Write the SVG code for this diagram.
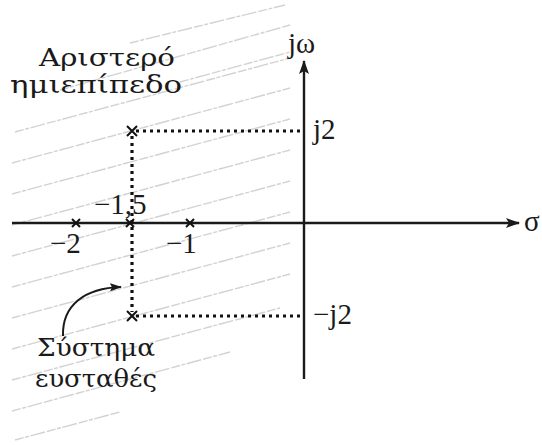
<svg xmlns="http://www.w3.org/2000/svg" width="542" height="445" viewBox="0 0 542 445">
<defs>
<style>
.hatch{stroke:#d2d2d2;stroke-width:1.4;stroke-dasharray:9 1.5 4 1.5 15 2;fill:none}
.axis{stroke:#1a1a1a;stroke-width:2.4;fill:none}
.dot{stroke:#111;stroke-width:3.2;stroke-dasharray:3 4;fill:none}
.x{stroke:#111;stroke-width:2;fill:none}
.lbl{font-family:"DejaVu Serif","Liberation Serif",serif;font-size:24px;fill:#1a1a1a}
.num{font-family:"Liberation Serif",serif;font-size:29px;fill:#1a1a1a}
</style>
<marker id="ah" viewBox="0 0 14 10" refX="13" refY="5" markerWidth="14" markerHeight="10" markerUnits="userSpaceOnUse" orient="auto">
<path d="M0,0 L14,5 L0,10 L3,5 Z" fill="#1a1a1a"/>
</marker>
<marker id="ah2" viewBox="0 0 12 8" refX="11" refY="4" markerWidth="12" markerHeight="8" markerUnits="userSpaceOnUse" orient="auto">
<path d="M0,0 L12,4 L0,8 L2,4 Z" fill="#1a1a1a"/>
</marker>
</defs>
<rect width="542" height="445" fill="#fff"/>
<g id="hatching">
<line class="hatch" x1="130" y1="43" x2="285" y2="5"/>
<line class="hatch" x1="60" y1="90" x2="290" y2="25"/>
<line class="hatch" x1="180" y1="82" x2="290" y2="52"/>
<line class="hatch" x1="15" y1="132" x2="290" y2="58"/>
<line class="hatch" x1="12" y1="163" x2="290" y2="88"/>
<line class="hatch" x1="12" y1="194" x2="290" y2="119"/>
<line class="hatch" x1="12" y1="225" x2="290" y2="150"/>
<line class="hatch" x1="12" y1="256" x2="290" y2="181"/>
<line class="hatch" x1="12" y1="287" x2="290" y2="212"/>
<line class="hatch" x1="12" y1="318" x2="290" y2="243"/>
<line class="hatch" x1="12" y1="349" x2="290" y2="274"/>
<line class="hatch" x1="12" y1="380" x2="280" y2="308"/>
<line class="hatch" x1="12" y1="411" x2="230" y2="352"/>
<line class="hatch" x1="15" y1="440" x2="120" y2="412"/>
</g>
<g id="connectors">
<line id="sigma-axis" class="axis" x1="12" y1="223" x2="519" y2="223" marker-end="url(#ah)"/>
<line id="jw-axis" class="axis" x1="304" y1="379" x2="304" y2="61" marker-end="url(#ah)"/>
<path id="dot-upper" class="dot" d="M136,131 H302"/>
<path id="dot-lower" class="dot" d="M136,316 H302"/>
<path id="dot-vert" class="dot" d="M132,136 V312"/>
<path id="curve-arrow" d="M63,336 C62,305 85,288 121,287" stroke="#1a1a1a" stroke-width="2" fill="none" marker-end="url(#ah2)"/>
</g>
<g id="pole-upper"><path class="x" d="M127,126 L137,136 M137,126 L127,136"/></g>
<g id="pole-lower"><path class="x" d="M127,311 L137,321 M137,311 L127,321"/></g>
<g id="mark-m2"><path class="x" d="M72,219 L80,227 M80,219 L72,227"/></g>
<g id="mark-m15"><path class="x" d="M126,219 L134,227 M134,219 L126,227"/></g>
<g id="mark-m1"><path class="x" d="M186,219 L194,227 M194,219 L186,227"/></g>
<g id="label-left-half">
<text class="lbl" x="39" y="66" textLength="136" lengthAdjust="spacingAndGlyphs">Αριστερό</text>
<text class="lbl" x="10" y="93" textLength="172" lengthAdjust="spacingAndGlyphs">ημιεπίπεδο</text>
</g>
<g id="label-stable">
<text class="lbl" x="37" y="356" textLength="118" lengthAdjust="spacingAndGlyphs">Σύστημα</text>
<text class="lbl" x="35" y="387" textLength="122" lengthAdjust="spacingAndGlyphs">ευσταθές</text>
</g>
<g id="ticks">
<text class="num" x="50" y="253">−2</text>
<text class="num" x="166" y="253">−1</text>
<text class="num" x="94" y="214">−1,5</text>
</g>
<g id="axis-labels">
<text class="num" x="288" y="53">jω</text>
<text class="num" x="313" y="139">j2</text>
<text class="num" x="313" y="324">−j2</text>
<text class="num" x="524" y="231">σ</text>
</g>
</svg>
